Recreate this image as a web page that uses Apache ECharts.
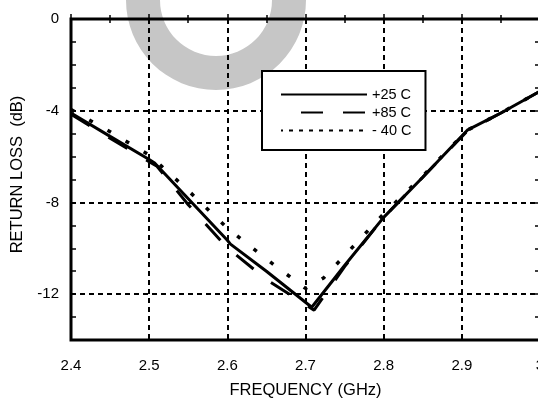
<!DOCTYPE html>
<html>
<head>
<meta charset="utf-8">
<script src="https://cdn.jsdelivr.net/npm/echarts@6/dist/echarts.min.js"></script>
<style>
  html, body { margin: 0; padding: 0; background: #fff; overflow: hidden; }
  #chart { width: 560px; height: 400px; }
</style>
</head>
<body>
<div id="chart"></div>
<script>
// return loss vs frequency, three temperatures
const seriesNames = ['+25 C', '+85 C', '- 40 C'];

const freq25 = [2.40, 2.45, 2.50, 2.507, 2.55, 2.60, 2.604, 2.65, 2.708, 2.75, 2.80, 2.85, 2.907, 2.95, 3.00];
const loss25 = [-4.10, -5.12, -6.13, -6.28, -7.84, -9.65, -9.82, -11.00, -12.57, -10.75, -8.65, -6.90, -4.85, -4.10, -3.15];

const freq85 = [2.40, 2.45, 2.50, 2.51, 2.55, 2.60, 2.65, 2.711, 2.75, 2.80, 2.85, 2.907, 2.95, 3.00];
const loss85 = [-4.15, -5.20, -6.22, -6.42, -8.10, -9.98, -11.36, -12.70, -10.80, -8.65, -6.90, -4.88, -4.10, -3.15];

const freq40 = [2.40, 2.45, 2.50, 2.55, 2.60, 2.65, 2.70, 2.723, 2.75, 2.80, 2.85, 2.907, 2.95, 3.00];
const loss40 = [-3.95, -4.92, -5.93, -7.48, -9.12, -10.47, -11.75, -11.30, -10.32, -8.50, -6.85, -4.85, -4.10, -3.15];

// y labels are shown on a helper axis that runs 0..14 downward
const yTickLabels = [0, 4, 8, 12];

const pairs = (xs, ys) => xs.map((x, i) => [x, ys[i]]);

const chart = echarts.init(document.getElementById('chart'));

const tickStyle = { color: '#000', width: 1.5 };

const option = {
  animation: false,
  textStyle: { fontFamily: 'Liberation Sans, Arial, sans-serif', color: '#000' },
  graphic: [{
    type: 'ring',
    z: -10,
    silent: true,
    shape: { cx: 216, cy: 0, r: 90, r0: 56 },
    style: { fill: '#c6c6c6' }
  }],
  grid: {
    left: 71, top: 19, width: 469, height: 321,
    outerBoundsMode: 'none', containLabel: false,
    show: true, borderColor: '#000', borderWidth: 3, backgroundColor: 'transparent'
  },
  legend: {
    orient: 'vertical',
    left: 262, top: 71,
    padding: [16, 14, 12, 18],
    itemWidth: 86, itemHeight: 14, itemGap: 3,
    backgroundColor: '#fff',
    borderColor: '#000', borderWidth: 2,
    itemStyle: { opacity: 0, color: 'transparent', borderWidth: 0 },
    textStyle: { fontSize: 14.5, color: '#000' },
    data: [
      { name: seriesNames[0] },
      { name: seriesNames[1], lineStyle: { type: [22, 20], dashOffset: 22 } },
      { name: seriesNames[2], lineStyle: { type: [4, 6] } }
    ]
  },
  xAxis: [{
    type: 'value', min: 2.4, max: 3.0, interval: 0.1,
    name: 'FREQUENCY (GHz)', nameLocation: 'middle', nameGap: 42,
    nameTextStyle: { fontSize: 16.5, color: '#000' },
    axisLine: { show: false },
    axisTick: { inside: true, length: 5, lineStyle: tickStyle },
    minorTick: { show: true, splitNumber: 2, length: 4, lineStyle: tickStyle },
    axisLabel: { fontSize: 15, color: '#000', margin: 18 },
    splitLine: { show: true, lineStyle: { color: '#000', type: [5, 4], width: 2 } }
  }, {
    type: 'value', position: 'top', min: 2.4, max: 3.0, interval: 0.1,
    axisLine: { show: false },
    axisTick: { inside: true, length: 5, lineStyle: tickStyle },
    minorTick: { show: true, splitNumber: 2, length: 4, lineStyle: tickStyle },
    axisLabel: { show: false },
    splitLine: { show: false }
  }],
  yAxis: [{
    type: 'value', position: 'left', min: -14, max: 0, interval: 1,
    axisLine: { show: false },
    axisTick: { inside: true, length: 5, lineStyle: tickStyle },
    axisLabel: { show: false },
    splitLine: { show: false }
  }, {
    type: 'value', position: 'right', min: -14, max: 0, interval: 1,
    axisLine: { show: false },
    axisTick: { inside: true, length: 5, lineStyle: tickStyle },
    axisLabel: { show: false },
    splitLine: { show: false }
  }, {
    type: 'value', position: 'left', inverse: true, min: 0, max: 14, interval: 4,
    name: 'RETURN LOSS  (dB)', nameLocation: 'middle', nameGap: 45,
    nameTextStyle: { fontSize: 16.5, color: '#000', padding: [0, 0, 0, 10] },
    axisLine: { show: false },
    axisTick: { show: false },
    axisLabel: {
      fontSize: 15, color: '#000', margin: 12,
      formatter: v => (yTickLabels.indexOf(v) < 0 ? '' : (v === 0 ? '0' : '-' + v))
    },
    splitLine: { show: true, lineStyle: { color: '#000', type: [5, 4], width: 2 } }
  }],
  series: [{
    name: seriesNames[0], type: 'line', xAxisIndex: 0, yAxisIndex: 0,
    symbol: 'none', z: 5,
    lineStyle: { color: '#000', width: 3 },
    itemStyle: { color: '#000' },
    data: pairs(freq25, loss25)
  }, {
    name: seriesNames[1], type: 'line', xAxisIndex: 0, yAxisIndex: 0,
    symbol: 'none', z: 4,
    lineStyle: { color: '#000', width: 3, type: [22, 22], cap: 'butt' },
    itemStyle: { color: '#000' },
    data: pairs(freq85, loss85)
  }, {
    name: seriesNames[2], type: 'line', xAxisIndex: 0, yAxisIndex: 0,
    symbol: 'none', z: 4,
    lineStyle: { color: '#000', width: 3.5, type: [4, 17], cap: 'butt' },
    itemStyle: { color: '#000' },
    data: pairs(freq40, loss40)
  }]
};

chart.setOption(option);
</script>
</body>
</html>
